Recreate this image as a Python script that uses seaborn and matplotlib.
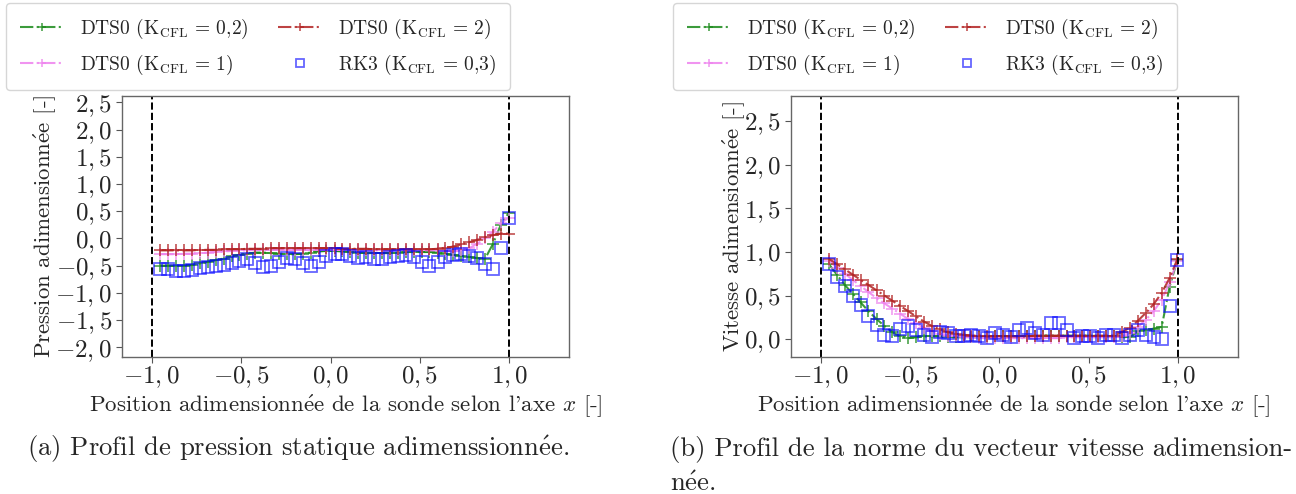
import numpy as np
import pandas as pd
import matplotlib
matplotlib.use("Agg")
import matplotlib.pyplot as plt
import seaborn as sns
from matplotlib.ticker import FuncFormatter, MultipleLocator

# ---------------- data ----------------
x_pos = [-0.953, -0.909, -0.864, -0.820, -0.776, -0.732, -0.687, -0.643, -0.599, -0.554,
         -0.510, -0.466, -0.421, -0.377, -0.333, -0.289, -0.244, -0.200, -0.156, -0.111,
         -0.067, -0.023, 0.022, 0.066, 0.110, 0.155, 0.199, 0.243, 0.287, 0.332,
         0.376, 0.420, 0.465, 0.509, 0.553, 0.598, 0.642, 0.686, 0.730, 0.775,
         0.819, 0.863, 0.908, 0.952, 0.996]

# Pressure profile (a)
p_dts_02 = [-0.50, -0.50, -0.50, -0.50, -0.49, -0.46, -0.43, -0.40, -0.37, -0.33,
            -0.30, -0.28, -0.26, -0.26, -0.27, -0.28, -0.29, -0.29, -0.28, -0.26,
            -0.24, -0.23, -0.23, -0.24, -0.25, -0.26, -0.27, -0.27, -0.27, -0.27,
            -0.26, -0.25, -0.25, -0.25, -0.25, -0.26, -0.28, -0.30, -0.32, -0.34,
            -0.36, -0.38, -0.10, 0.25, 0.47]
p_dts_1 = [-0.29, -0.29, -0.29, -0.28, -0.28, -0.27, -0.26, -0.25, -0.24, -0.23,
           -0.22, -0.22, -0.21, -0.21, -0.21, -0.21, -0.21, -0.21, -0.21, -0.21,
           -0.21, -0.21, -0.21, -0.21, -0.21, -0.21, -0.22, -0.22, -0.22, -0.22,
           -0.22, -0.22, -0.22, -0.22, -0.22, -0.22, -0.23, -0.24, -0.22, -0.18,
           -0.10, 0.00, 0.12, 0.28, 0.38]
p_dts_2 = [-0.22, -0.22, -0.22, -0.22, -0.22, -0.21, -0.21, -0.21, -0.20, -0.20,
           -0.20, -0.19, -0.19, -0.19, -0.18, -0.18, -0.18, -0.18, -0.18, -0.18,
           -0.18, -0.18, -0.18, -0.19, -0.19, -0.19, -0.19, -0.20, -0.20, -0.20,
           -0.20, -0.20, -0.20, -0.20, -0.20, -0.19, -0.17, -0.15, -0.11, -0.07,
           -0.03, 0.02, 0.06, 0.09, 0.09]
p_rk3 = [-0.57, -0.57, -0.59, -0.59, -0.58, -0.55, -0.52, -0.51, -0.49, -0.45,
         -0.41, -0.38, -0.45, -0.52, -0.51, -0.43, -0.36, -0.38, -0.46, -0.50,
         -0.44, -0.32, -0.29, -0.29, -0.32, -0.36, -0.35, -0.38, -0.38, -0.35,
         -0.32, -0.31, -0.34, -0.44, -0.50, -0.43, -0.34, -0.31, -0.29, -0.32,
         -0.36, -0.47, -0.56, -0.17, 0.37]

# Velocity profile (b)
v_dts_02 = [0.86, 0.74, 0.62, 0.52, 0.42, 0.32, 0.23, 0.15, 0.08, 0.03,
            0.01, 0.02, 0.03, 0.03, 0.03, 0.02, 0.02, 0.02, 0.02, 0.02,
            0.02, 0.03, 0.03, 0.03, 0.03, 0.03, 0.03, 0.04, 0.04, 0.04,
            0.04, 0.04, 0.04, 0.04, 0.03, 0.03, 0.03, 0.02, 0.02, 0.09,
            0.10, 0.12, 0.14, 0.60, 0.91]
v_dts_1 = [0.90, 0.82, 0.75, 0.68, 0.61, 0.54, 0.47, 0.41, 0.35, 0.29,
           0.23, 0.18, 0.13, 0.09, 0.06, 0.04, 0.03, 0.02, 0.02, 0.01,
           0.01, 0.01, 0.01, 0.01, 0.01, 0.01, 0.01, 0.01, 0.01, 0.01,
           0.02, 0.02, 0.02, 0.02, 0.02, 0.02, 0.02, 0.03, 0.07, 0.14,
           0.22, 0.32, 0.45, 0.65, 0.90]
v_dts_2 = [0.92, 0.86, 0.80, 0.74, 0.68, 0.62, 0.56, 0.50, 0.44, 0.38,
           0.32, 0.26, 0.20, 0.15, 0.11, 0.08, 0.06, 0.05, 0.04, 0.04,
           0.03, 0.03, 0.03, 0.03, 0.03, 0.03, 0.04, 0.04, 0.04, 0.04,
           0.04, 0.04, 0.04, 0.04, 0.04, 0.04, 0.04, 0.08, 0.13, 0.21,
           0.30, 0.40, 0.53, 0.70, 0.92]
v_rk3 = [0.86, 0.71, 0.61, 0.49, 0.39, 0.26, 0.16, 0.05, 0.03, 0.11,
         0.15, 0.10, 0.05, 0.02, 0.08, 0.07, 0.04, 0.03, 0.05, 0.03,
         0.01, 0.07, 0.05, 0.02, 0.10, 0.13, 0.07, 0.05, 0.18, 0.18,
         0.10, 0.01, 0.03, 0.03, 0.01, 0.05, 0.05, 0.01, 0.05, 0.10,
         0.05, 0.02, 0.00, 0.38, 0.91]

series_labels = [r"DTS0 ($\mathrm{K}_{\mathrm{CFL}}$ = 0,2)",
                 r"DTS0 ($\mathrm{K}_{\mathrm{CFL}}$ = 1)",
                 r"DTS0 ($\mathrm{K}_{\mathrm{CFL}}$ = 2)",
                 r"RK3 ($\mathrm{K}_{\mathrm{CFL}}$ = 0,3)"]
series_colors = ["#1a8a1a", "#ee82ee", "#b22222", "#0000ff"]

E = r"$\mathrm{\acute{e}}$"  # é rendered with Computer Modern accent
ylabels = ["Pression adimensionn" + E + "e [-]", "Vitesse adimensionn" + E + "e [-]"]
xlabel = "Position adimensionn" + E + r"e de la sonde selon l'axe $x$ [-]"
captions = ["(a) Profil de pression statique adimenssionn" + E + "e.",
            "(b) Profil de la norme du vecteur vitesse adimension-",
            "n" + E + "e."]

# ---------------- style ----------------
sns.set_style("ticks")
plt.rcParams["font.family"] = ["cmr10", "DejaVu Serif"]
plt.rcParams["mathtext.fontset"] = "cm"
plt.rcParams["axes.unicode_minus"] = True
plt.rcParams["axes.formatter.use_mathtext"] = True

fig = plt.figure(figsize=(12.96, 4.94), dpi=100)
ax_a = fig.add_axes([0.0941, 0.2773, 0.3449, 0.5284])
ax_b = fig.add_axes([0.6101, 0.2773, 0.3449, 0.5284])

fmt = FuncFormatter(lambda v, p: ("$%.1f$" % v).replace(".", ","))


def draw(ax, ys, ylim, ytick_min, ylab, ylab_x):
    for y, lab, col in zip(ys[:3], series_labels[:3], series_colors[:3]):
        df = pd.DataFrame({"x": x_pos, "y": y})
        sns.lineplot(data=df, x="x", y="y", ax=ax, color=col, linestyle="-.",
                     marker="+", markersize=9, markeredgewidth=1.1,
                     markeredgecolor=col, lw=1.5, alpha=0.85, label=lab)
    df = pd.DataFrame({"x": x_pos, "y": ys[3]})
    sns.lineplot(data=df, x="x", y="y", ax=ax, linestyle="none", marker="s",
                 markersize=9, markerfacecolor="none", markeredgecolor=series_colors[3],
                 markeredgewidth=1.3, alpha=0.6, color=series_colors[3],
                 label=series_labels[3])
    ax.axvline(-1.0, color="black", ls="--", lw=1.4)
    ax.axvline(1.0, color="black", ls="--", lw=1.4)
    ax.set_xlim(-1.167, 1.333)
    ax.set_ylim(*ylim)
    ax.xaxis.set_major_locator(MultipleLocator(0.5))
    ax.set_yticks([t for t in np.arange(ytick_min, ylim[1], 0.5)])
    ax.xaxis.set_major_formatter(fmt)
    ax.yaxis.set_major_formatter(fmt)
    ax.tick_params(labelsize=18, length=4, color="#555555", pad=3)
    ax.tick_params(axis="x", pad=1.5)
    for s in ax.spines.values():
        s.set_color("#666666")
        s.set_linewidth(1.0)
    ax.set_xlabel(xlabel, fontsize=16.5)
    ax.set_ylabel(ylab, fontsize=16.5)
    ax.yaxis.set_label_coords(ylab_x, 0.5)
    ax.xaxis.set_label_coords(0.5, -0.135)
    h, l = ax.get_legend_handles_labels()
    ax.get_legend().remove()
    return h, l


h, l = draw(ax_a, [p_dts_02, p_dts_1, p_dts_2, p_rk3], (-2.178, 2.616), -2.0,
            ylabels[0], -0.143)
draw(ax_b, [v_dts_02, v_dts_1, v_dts_2, v_rk3], (-0.206, 2.79), 0.0,
     ylabels[1], -0.098)

for xa in (6 / 1296, 673 / 1296):
    fig.legend(h, l, loc="upper left", bbox_to_anchor=(xa, 1 - 3 / 494), ncol=2,
               fontsize=14, borderaxespad=0, handlelength=2.3, columnspacing=1.5,
               labelspacing=0.6, borderpad=0.7, markerscale=0.7, frameon=True)

fig.text(298 / 1296, 1 - 449 / 494, captions[0], ha="center", va="center", fontsize=19.2)
fig.text(670 / 1296, 1 - 449 / 494, captions[1], ha="left", va="center", fontsize=19.2)
fig.text(670 / 1296, 1 - 484 / 494, captions[2], ha="left", va="center", fontsize=19.2)

fig.savefig("out.png", dpi=100)
